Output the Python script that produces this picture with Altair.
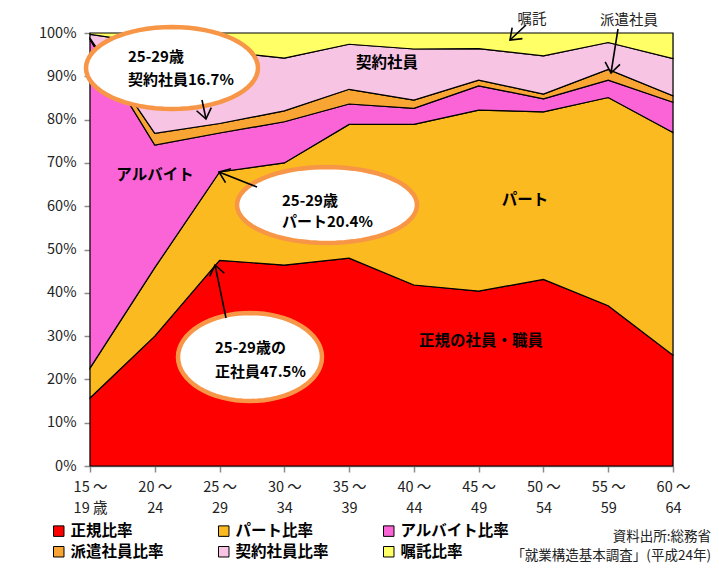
import math
import altair as alt
import pandas as pd

# ---------------- data ----------------
age_top = ["15 ～", "20 ～", "25 ～", "30 ～", "35 ～", "40 ～", "45 ～", "50 ～", "55 ～", "60 ～"]
age_bot = ["19 歳", "24", "29", "34", "39", "44", "49", "54", "59", "64"]

series = ["正規比率", "パート比率", "アルバイト比率", "派遣社員比率", "契約社員比率", "嘱託比率"]
colors = ["#FF0000", "#FBBA1F", "#FA64D6", "#F9A533", "#F8C4E4", "#FFFF66"]

seiki    = [15.7, 30.0, 47.5, 46.4, 48.0, 41.8, 40.4, 43.1, 37.0, 25.6]
part     = [6.9, 15.8, 20.4, 23.6, 30.9, 37.1, 41.8, 38.7, 48.1, 51.4]
arubaito = [75.9, 28.3, 9.0, 9.5, 4.7, 3.7, 5.6, 3.0, 4.0, 7.0]
haken    = [0.3, 2.7, 2.2, 2.5, 3.4, 1.9, 1.3, 1.1, 2.5, 1.5]
keiyaku  = [0.9, 20.7, 16.7, 12.2, 10.4, 11.8, 7.3, 8.8, 6.2, 8.6]
shokutaku = [0.3, 2.5, 4.2, 5.8, 2.6, 3.7, 3.6, 5.3, 2.2, 5.9]

values = [seiki, part, arubaito, haken, keiyaku, shokutaku]

rows = []
for k, (name, vals) in enumerate(zip(series, values)):
    for i, v in enumerate(vals):
        rows.append({"idx": i, "series": name, "value": v, "ord": k})
df = pd.DataFrame(rows)

# ---------------- layout helpers ----------------
W, H = 583, 433
PX0, PY0 = 90, 33  # plot origin on page


def dx(px):
    return (px - PX0) / W * 9


def dy(py):
    return (PY0 + H - py) / H * 100


FONT = "Noto Sans CJK JP"
xs = alt.Scale(domain=[0, 9], nice=False, zero=False)
ys = alt.Scale(domain=[0, 100], nice=False, zero=True)

label_arr = "[" + ",".join("['%s','%s']" % (a, b) for a, b in zip(age_top, age_bot)) + "]"

areas = alt.Chart(df).mark_area(
    stroke="black", strokeWidth=1.2, opacity=1, interpolate="linear"
).encode(
    x=alt.X("idx:Q", scale=xs, title=None,
            axis=alt.Axis(values=list(range(10)), labelExpr=label_arr + "[datum.value]",
                          grid=False, domainColor="#8c8c8c", domainWidth=1.5,
                          tickColor="#8c8c8c", tickWidth=1.5, tickSize=6,
                          labelFont=FONT, labelFontSize=14.5, labelColor="#222",
                          labelPadding=8, labelLineHeight=21,
                          labelAngle=0, labelFlush=False, labelOverlap=False)),
    y=alt.Y("value:Q", stack="zero", scale=ys, title=None,
            axis=alt.Axis(values=list(range(0, 101, 10)), labelExpr="datum.value + '%'",
                          grid=False, domainColor="#8c8c8c", domainWidth=1.5,
                          tickColor="#8c8c8c", tickWidth=1.5, tickSize=6,
                          labelFont=FONT, labelFontSize=14.5, labelColor="#222",
                          labelPadding=8)),
    color=alt.Color("series:N", scale=alt.Scale(domain=series, range=colors),
                    legend=alt.Legend(title=None, orient="none", legendX=-39, legendY=490,
                                      direction="horizontal",
                                      columns=3, columnPadding=52, rowPadding=4,
                                      symbolType="square", symbolSize=110,
                                      symbolStrokeColor="black", symbolStrokeWidth=1,
                                      symbolOpacity=1, labelFont=FONT, labelFontSize=15.5,
                                      labelFontWeight="bold", labelColor="black",
                                      labelOffset=4, labelLimit=200)),
    order=alt.Order("ord:Q"),
)


def X(field):
    return alt.X(field, scale=xs, title=None)


def Y(field):
    return alt.Y(field, scale=ys, title=None)


# ---------------- ellipses ----------------
def ellipse_path(ratio, n=64):
    pts = []
    for j in range(n):
        t = 2 * math.pi * j / n
        pts.append("%.4f %.4f" % (math.cos(t), ratio * math.sin(t)))
    return "M " + " L ".join(pts) + " Z"


ellipses = [  # center x, center y, width, height (page px)
    (172, 68, 172, 82),
    (327, 205, 180, 76),
    (250, 357, 144, 88),
]
ell_layers = []
for cx, cy, ew, eh in ellipses:
    edf = pd.DataFrame({"x": [dx(cx)], "y": [dy(cy)]})
    ell_layers.append(
        alt.Chart(edf).mark_point(
            shape=ellipse_path(eh / ew), size=ew * ew, filled=True, fill="white",
            stroke="#F79646", strokeWidth=4.5, opacity=1
        ).encode(x=X("x:Q"), y=Y("y:Q"))
    )

# ---------------- arrows ----------------
arrows = [  # start (x,y) -> tip (x,y), page px
    (202, 100, 206, 119),
    (257, 187, 219, 172),
    (226, 318, 215, 265),
    (526, 25, 510, 40),
    (618, 29, 611, 73),
]
adf = pd.DataFrame({
    "x": [dx(a[0]) for a in arrows], "y": [dy(a[1]) for a in arrows],
    "x2": [dx(a[2]) for a in arrows], "y2": [dy(a[3]) for a in arrows],
    "ang": [math.degrees(math.atan2(a[3] - a[1], a[2] - a[0])) % 360 for a in arrows],
})
arrow_lines = alt.Chart(adf).mark_rule(color="black", strokeWidth=1.6).encode(
    x=X("x:Q"), y=Y("y:Q"), x2="x2:Q", y2="y2:Q")
arrow_heads = alt.Chart(adf).mark_point(
    shape="M -1 -0.75 L 0 0 L -1 0.75", size=400, filled=False,
    stroke="black", strokeWidth=1.6, opacity=1
).encode(x=X("x2:Q"), y=Y("y2:Q"), angle=alt.Angle("ang:Q", scale=None))

# ---------------- texts ----------------
def text_layer(items, size, weight, align="left", color="black"):
    tdf = pd.DataFrame({"x": [dx(t[1]) for t in items], "y": [dy(t[2]) for t in items],
                        "t": [t[0] for t in items]})
    return alt.Chart(tdf).mark_text(
        font=FONT, fontSize=size, fontWeight=weight, align=align, baseline="middle", color=color
    ).encode(x=X("x:Q"), y=Y("y:Q"), text="t:N")


callout_text = text_layer([
    ("25-29歳", 128, 57), ("契約社員16.7%", 128, 80),
    ("25-29歳", 282, 201), ("パート20.4%", 282, 222),
    ("25-29歳の", 215, 348), ("正社員47.5%", 215, 372),
], 15, "bold")

inner_text = text_layer([
    ("契約社員", 387, 63), ("アルバイト", 155, 175), ("パート", 525, 200),
    ("正規の社員・職員", 481, 341),
], 15.5, "bold", align="center")

top_text = text_layer([("嘱託", 532, 20), ("派遣社員", 629, 21)], 14.5, "normal", align="center",
                      color="#222")

source_text = text_layer([("資料出所:総務省", 711, 537), ("「就業構造基本調査」(平成24年)", 711, 556)],
                         13.5, "normal", align="right", color="#222")

chart = alt.layer(
    areas, *ell_layers, arrow_lines, arrow_heads, callout_text, inner_text, top_text, source_text
).properties(
    width=W, height=H,
    autosize=alt.AutoSizeParams(type="none"),
    padding={"left": 82, "top": 25, "right": 38, "bottom": 99},
).configure_view(stroke=None).configure(background="white")

chart.save("out.html", embed_options={"renderer": "svg", "actions": False})
